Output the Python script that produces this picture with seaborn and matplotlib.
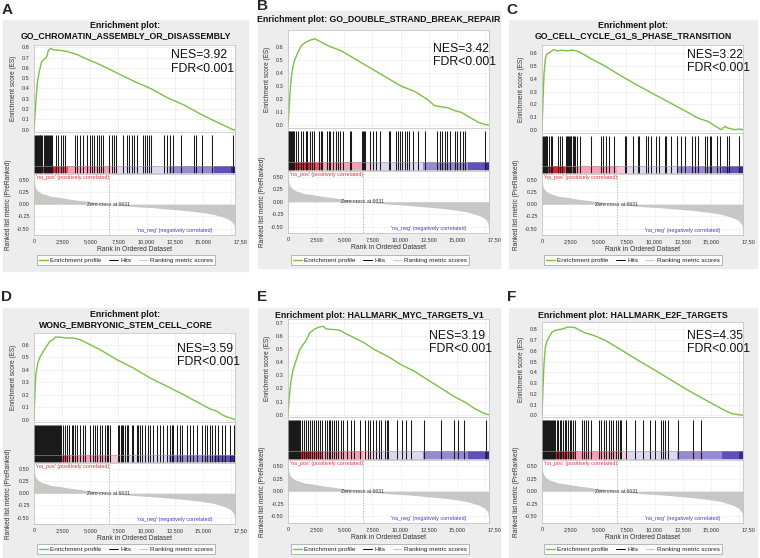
import numpy as np
import matplotlib
matplotlib.use("Agg")
import matplotlib.pyplot as plt
import seaborn as sns
from matplotlib.colors import ListedColormap, BoundaryNorm
from matplotlib.lines import Line2D
from matplotlib.patches import Rectangle
from matplotlib.transforms import ScaledTranslation

# -- data

N_GENES = 17850
ZERO_CROSS = 6631

# ranked list metric, the same list for every panel
metric_rank = [0, 30, 100, 200, 400, 700, 1000, 1500, 2000, 3000, 4000, 5000, 6000,
               6631, 7500, 9000, 10500, 12000, 13500, 15000, 16000, 17000, 17500, 17750, 17850]
metric_val = [0.56, 0.45, 0.36, 0.31, 0.26, 0.22, 0.20, 0.16, 0.15, 0.11, 0.08, 0.05, 0.03,
              0.0, -0.02, -0.05, -0.07, -0.10, -0.13, -0.17, -0.21, -0.28, -0.34, -0.42, -0.58]

titles = ["Enrichment plot:\nGO_CHROMATIN_ASSEMBLY_OR_DISASSEMBLY",
          "Enrichment plot: GO_DOUBLE_STRAND_BREAK_REPAIR",
          "Enrichment plot:\nGO_CELL_CYCLE_G1_S_PHASE_TRANSITION",
          "Enrichment plot:\nWONG_EMBRYONIC_STEM_CELL_CORE",
          "Enrichment plot: HALLMARK_MYC_TARGETS_V1",
          "Enrichment plot: HALLMARK_E2F_TARGETS"]
letters = ["A", "B", "C", "D", "E", "F"]
nes = ["3.92", "3.42", "3.22", "3.59", "3.19", "4.35"]
fdr = ["<0.001"] * 6

# running enrichment score (rank, ES)
es_rank_a = [0, 180, 300, 480, 680, 980, 1130, 1280, 1490, 1730, 2320, 2920, 3810, 4700,
             5890, 7380, 8870, 10360, 11840, 13330, 14820, 16310, 17700, 17850]
es_a = [0.0, 0.30, 0.46, 0.57, 0.66, 0.69, 0.71, 0.77, 0.79, 0.775, 0.77, 0.76, 0.73, 0.685,
        0.63, 0.55, 0.47, 0.40, 0.31, 0.24, 0.15, 0.07, 0.0, 0.0]

es_rank_b = [0, 90, 180, 300, 440, 590, 890, 1180, 1630, 2070, 2370, 2660, 3550, 4740, 5920,
             7400, 8880, 10060, 11250, 12430, 13020, 14210, 14800, 15390, 15980, 16870, 17460, 17850]
es_b = [0.0, 0.12, 0.25, 0.37, 0.45, 0.50, 0.56, 0.61, 0.64, 0.655, 0.663, 0.65, 0.61, 0.57, 0.51,
        0.435, 0.36, 0.30, 0.26, 0.195, 0.15, 0.135, 0.113, 0.10, 0.07, 0.025, 0.008, 0.0]

es_rank_c = [0, 90, 180, 300, 440, 740, 1030, 1330, 1770, 2210, 2650, 3100, 3540, 4430, 5600,
             7080, 8560, 10030, 11510, 12980, 13870, 14750, 15340, 15930, 16230, 16520, 17110, 17550, 17850]
es_c = [0.0, 0.235, 0.44, 0.56, 0.595, 0.61, 0.63, 0.62, 0.625, 0.62, 0.625, 0.62, 0.60, 0.555, 0.50,
        0.42, 0.345, 0.275, 0.205, 0.135, 0.09, 0.065, 0.03, 0.0, 0.026, 0.013, 0.0, 0.005, 0.0]

es_rank_d = [0, 90, 180, 330, 530, 830, 1120, 1420, 1720, 1860, 2310, 2900, 3490, 4080, 4680,
             5860, 7340, 8820, 10300, 11780, 13260, 14740, 15630, 16220, 16810, 17400, 17850]
es_d = [0.0, 0.24, 0.37, 0.45, 0.50, 0.547, 0.587, 0.627, 0.64, 0.66, 0.66, 0.653, 0.653, 0.64, 0.613,
        0.56, 0.48, 0.413, 0.333, 0.267, 0.20, 0.128, 0.085, 0.067, 0.032, 0.013, 0.0]

es_rank_e = [0, 90, 240, 440, 740, 1040, 1330, 1630, 1920, 2370, 2810, 3110, 3400, 4000, 4590,
             5030, 5920, 6810, 7700, 8880, 10060, 11250, 12430, 13620, 14800, 15690, 16580, 17460, 17850]
es_e = [0.0, 0.11, 0.24, 0.34, 0.42, 0.495, 0.533, 0.57, 0.623, 0.654, 0.67, 0.674, 0.654, 0.65, 0.644,
        0.623, 0.585, 0.546, 0.495, 0.444, 0.38, 0.33, 0.264, 0.20, 0.136, 0.097, 0.046, 0.008, 0.0]

es_rank_f = [0, 90, 180, 300, 440, 650, 890, 1180, 1480, 1920, 2210, 2660, 2950, 3250, 3840,
             4570, 5610, 7080, 8560, 10030, 11510, 12980, 14460, 15930, 16820, 17850]
es_f = [0.0, 0.26, 0.48, 0.636, 0.69, 0.73, 0.775, 0.79, 0.797, 0.806, 0.82, 0.82, 0.815, 0.797, 0.766,
        0.744, 0.698, 0.605, 0.51, 0.42, 0.325, 0.232, 0.146, 0.062, 0.016, 0.0]

# hit positions (rank of each gene of the set)
hits_a = [15, 90, 170, 250, 330, 410, 490, 570, 650, 730, 850, 1000, 1080, 1160, 1240, 1320,
          1400, 1480, 1560, 1950, 2130, 2370, 2550, 2750, 3640, 3820, 4080, 4320, 4740, 4970,
          5180, 5360, 5560, 5770, 5920, 6100, 6690, 6900, 7100, 7280, 7870, 8290, 8470, 8700,
          8880, 9120, 9650, 9860, 10060, 10240, 10360, 11540, 11840, 12080, 12310, 13050,
          14210, 14390, 14890, 15780, 17700]
hits_b = [0, 60, 130, 200, 270, 340, 410, 480, 550, 740, 890, 1180, 1330, 1570, 1690, 1920,
          2160, 2310, 2750, 2900, 3050, 3490, 3610, 3760, 4000, 4290, 4440, 4650, 4880, 5480,
          5620, 6600, 6690, 6780, 6870, 7310, 7550, 7780, 8140, 8970, 9090, 9560, 9770, 9920,
          10150, 10360, 10570, 10740, 11100, 11540, 12140, 13230, 13470, 13700, 13940, 14120,
          14360, 14800, 15010, 15240, 15540, 15720, 17460]
hits_c = [0, 80, 160, 240, 320, 380, 470, 620, 770, 920, 1420, 1600, 1780, 2160, 2250, 2340,
          2430, 2520, 2600, 2720, 2810, 2960, 3140, 3340, 4380, 5270, 5420, 5710, 5920, 6390,
          7340, 7490, 8080, 8520, 8610, 9260, 9410, 9710, 10150, 10360, 10890, 11040, 11480,
          12020, 12370, 12670, 13320, 13560, 13850, 14440, 14650, 14890, 15040, 15570, 15780,
          16430, 16580, 17490]
hits_d = [0, 90, 180, 270, 360, 450, 540, 630, 720, 810, 900, 990, 1080, 1170, 1260, 1350,
          1440, 1530, 1620, 1710, 1800, 1890, 1980, 2070, 2160, 2250, 2340, 2430, 2600, 2750,
          2960, 3140, 3340, 3490, 3640, 3790, 4080, 4320, 4530, 4970, 5270, 5420, 5560, 5860,
          6010, 6300, 6450, 6600, 6750, 7490, 7580, 7700, 7780, 7930, 8080, 8230, 8380, 8670,
          8820, 9120, 9260, 9410, 9560, 9860, 10150, 10300, 10600, 10890, 11190, 11480, 11780,
          12080, 12220, 12370, 12670, 12960, 13110, 13560, 13850, 14150, 14440, 14890, 15180,
          15330, 15630, 15780, 16070, 16370, 16660, 16960, 17400, 17760]
hits_e = [0, 90, 180, 270, 360, 450, 540, 630, 720, 810, 900, 990, 1080, 1200, 1380, 1560,
          1750, 1950, 2100, 2300, 2500, 2650, 2850, 3050, 3300, 3450, 3600, 3750, 3900, 4050,
          4250, 4450, 4700, 4900, 5200, 5600, 5900, 6350, 6800, 7100, 7250, 7550, 7850, 8050,
          8300, 8580, 8750, 8900, 9650, 10100, 10500, 10950, 12100, 13620, 14700, 15100, 15600,
          17550]
hits_f = [0, 80, 160, 240, 320, 400, 480, 560, 640, 720, 800, 880, 960, 1070, 1180, 1300,
          1420, 1570, 1720, 1860, 2010, 2160, 2310, 2460, 2600, 2750, 2960, 3550, 3730, 3940,
          4080, 4380, 5060, 5270, 5480, 5710, 5920, 6100, 6300, 6600, 6750, 6900, 7040, 7490,
          8230, 8970, 9620, 10060, 10600, 10740, 10950, 11190, 12080, 13410, 14150]

es_ranks = [es_rank_a, es_rank_b, es_rank_c, es_rank_d, es_rank_e, es_rank_f]
es_vals = [es_a, es_b, es_c, es_d, es_e, es_f]
hits = [hits_a, hits_b, hits_c, hits_d, hits_e, hits_f]
es_top_tick = [0.8, 0.6, 0.6, 0.6, 0.7, 0.8]

# -- layout (pixel boxes: left, top, right, bottom)
W, H = 760, 558
layout = [
    dict(bg=(3, 20, 248, 271), letter=(7, 10), title_y=31, es=(34, 45, 235, 132),
         hit=(34, 132, 235, 174), met=(34, 174, 235, 235), leg=(126, 260),
         ylim=(-0.022, 0.822), nes_xy=(0.68, 0.95)),
    dict(bg=(258, 11, 500, 268), letter=(262, 6), title_y=19, es=(288, 30, 489, 128),
         hit=(288, 128, 489, 171), met=(288, 171, 489, 233), leg=(380, 260),
         ylim=(-0.02, 0.73), nes_xy=(0.72, 0.87)),
    dict(bg=(509, 20, 757, 268), letter=(512, 10), title_y=31, es=(542, 45, 743, 133),
         hit=(542, 133, 743, 174), met=(542, 174, 743, 235), leg=(633, 260),
         ylim=(-0.026, 0.666), nes_xy=(0.72, 0.955)),
    dict(bg=(3, 308, 248, 557), letter=(7, 297), title_y=320, es=(34, 333, 235, 422),
         hit=(34, 422, 235, 463), met=(34, 463, 235, 524), leg=(126, 549),
         ylim=(-0.02, 0.693), nes_xy=(0.71, 0.89)),
    dict(bg=(258, 308, 500, 557), letter=(262, 297), title_y=315, es=(288, 319, 489, 417),
         hit=(288, 417, 489, 460), met=(288, 460, 489, 523), leg=(380, 549),
         ylim=(-0.018, 0.73), nes_xy=(0.70, 0.89)),
    dict(bg=(509, 308, 757, 557), letter=(512, 297), title_y=315, es=(542, 322, 743, 417),
         hit=(542, 417, 743, 460), met=(542, 460, 743, 523), leg=(633, 549),
         ylim=(-0.016, 0.868), nes_xy=(0.72, 0.92)),
]

GREEN = "#7ac143"
FILL = "#c9c6c6"
PANEL_BG = "#ededed"
SPINE = "#bdbdbd"
bar_cmap = ListedColormap(["#3a2898", "#6050b8", "#9888d0", "#ddd8f0",
                           "#f8c8d8", "#f4a0b5", "#f04a60", "#d8203a"])
bar_norm = BoundaryNorm([-1, -0.33, -0.2, -0.085, -0.01, 0.01, 0.1, 0.15, 1], bar_cmap.N)

sns.set_theme(style="white")
plt.rcParams['font.family'] = ['Liberation Sans', 'DejaVu Sans']


def box(l, t, r, b):
    return [l / W, 1 - b / H, (r - l) / W, (b - t) / H]


def style_axes(ax):
    for s in ax.spines.values():
        s.set_color(SPINE)
        s.set_linewidth(0.5)
    ax.tick_params(length=1.5, width=0.4, color="#888888", labelsize=4.0,
                   labelcolor="#333333", pad=1.5)


fig = plt.figure(figsize=(W / 100, H / 100), dpi=100)

metric_mid = (np.array(metric_val[:-1]) + np.array(metric_val[1:])) / 2

for i, lay in enumerate(layout):
    l, t, r, b = lay["bg"]
    fig.add_artist(Rectangle((l / W, 1 - b / H), (r - l) / W, (b - t) / H,
                             transform=fig.transFigure, color=PANEL_BG, zorder=0))
    fig.text(lay["letter"][0] / W, 1 - lay["letter"][1] / H, letters[i],
             ha="center", va="center", fontsize=11, fontweight="bold")
    fig.text((l + r) / 2 / W, 1 - lay["title_y"] / H, titles[i], ha="center", va="center",
             fontsize=6.3, fontweight="bold", linespacing=1.15, color="#111111")

    ax_es = fig.add_axes(box(*lay["es"]))
    ax_hit = fig.add_axes(box(*lay["hit"]), sharex=ax_es)
    ax_m = fig.add_axes(box(*lay["met"]), sharex=ax_es)
    for ax in (ax_es, ax_hit, ax_m):
        style_axes(ax)

    # enrichment score
    sns.lineplot(x=es_ranks[i], y=es_vals[i], ax=ax_es, color=GREEN, linewidth=1.0)
    ax_es.set_xlim(0, N_GENES)
    ax_es.set_ylim(*lay["ylim"])
    yt = np.round(np.arange(0, es_top_tick[i] + 0.01, 0.1), 1)
    ax_es.set_yticks(yt)
    ax_es.set_yticklabels([f"{v:.1f}" for v in yt])
    ax_es.grid(True, color="#e6e6e6", linewidth=0.4)
    ax_es.tick_params(axis="x", labelbottom=False, length=0)
    ax_es.set_ylabel("Enrichment score (ES)", fontsize=4.7, color="#333333")
    ax_es.yaxis.set_label_coords(-0.085, 0.5)
    ax_es.text(lay["nes_xy"][0], lay["nes_xy"][1], f"NES={nes[i]}\nFDR{fdr[i]}",
               transform=ax_es.transAxes, ha="left", va="top", fontsize=8.8,
               linespacing=1.15, color="#111111")

    # hits + colour bar of the ranked list
    ax_hit.pcolormesh(np.array(metric_rank), [0.025, 0.2], metric_mid[np.newaxis, :],
                      cmap=bar_cmap, norm=bar_norm, shading="flat")
    ax_hit.vlines(hits[i], 0.025, 0.92, color="#1a1a1a", linewidth=0.75)
    ax_hit.axhline(0.2, color="#a0a0a0", linewidth=0.4)
    ax_hit.axhline(0.025, color="#a0a0a0", linewidth=0.4)
    ax_hit.set_ylim(0, 1)
    ax_hit.set_yticks([])
    ax_hit.tick_params(axis="x", labelbottom=False, length=0)

    # ranked list metric
    ax_m.fill_between(metric_rank, metric_val, 0, color=FILL, linewidth=0)
    ax_m.axvline(ZERO_CROSS, color="#9a9a9a", linewidth=0.5, linestyle=(0, (2, 2)))
    ax_m.set_ylim(-0.63, 0.62)
    mt = [0.5, 0.25, 0.0, -0.25, -0.5]
    ax_m.set_yticks(mt)
    ax_m.set_yticklabels([f"{v:.2f}" for v in mt])
    ax_m.grid(True, color="#ececec", linewidth=0.4)
    xt = [0, 2500, 5000, 7500, 10000, 12500, 15000, 17500]
    ax_m.set_xticks(xt)
    ax_m.set_xticklabels(["0", "2,500", "5,000", "7,500", "10,000", "12,500", "15,000", "17,50"])
    last = ax_m.get_xticklabels()[-1]
    last.set_transform(last.get_transform() + ScaledTranslation(7 / 72, 0, fig.dpi_scale_trans))
    ax_m.set_xlim(0, N_GENES)
    ax_m.set_xlabel("Rank in Ordered Dataset", fontsize=4.9, color="#333333", labelpad=1.5)
    ax_m.set_ylabel("Ranked list metric (PreRanked)", fontsize=4.7, color="#333333")
    ax_m.yaxis.set_label_coords(-0.11, 0.5)
    ax_m.text(ZERO_CROSS, 0.0, f"Zero cross at {ZERO_CROSS}", ha="center", va="center",
              fontsize=3.7, color="#333333")
    ax_m.text(0.01, 0.985, "'na_pos' (positively correlated)", transform=ax_m.transAxes,
              ha="left", va="top", fontsize=3.9, color="#e8323c")
    ax_m.text(0.89, 0.03, "'na_neg' (negatively correlated)", transform=ax_m.transAxes,
              ha="right", va="bottom", fontsize=3.9, color="#4a3cc0")

    handles = [Line2D([], [], color=GREEN, lw=1.0), Line2D([], [], color="black", lw=0.7),
               Line2D([], [], color="#c8c8c8", lw=0.7)]
    leg = ax_m.legend(handles, ["Enrichment profile", "Hits", "Ranking metric scores"],
                      loc="center", bbox_to_anchor=(lay["leg"][0] / W, 1 - lay["leg"][1] / H),
                      bbox_transform=fig.transFigure, ncol=3, fontsize=4.6, frameon=True,
                      fancybox=False, edgecolor="#888888", borderpad=0.35, handlelength=1.4,
                      handletextpad=0.4, columnspacing=1.1, borderaxespad=0)
    leg.get_frame().set_linewidth(0.5)

fig.savefig("out.png", dpi=100, facecolor="white")
